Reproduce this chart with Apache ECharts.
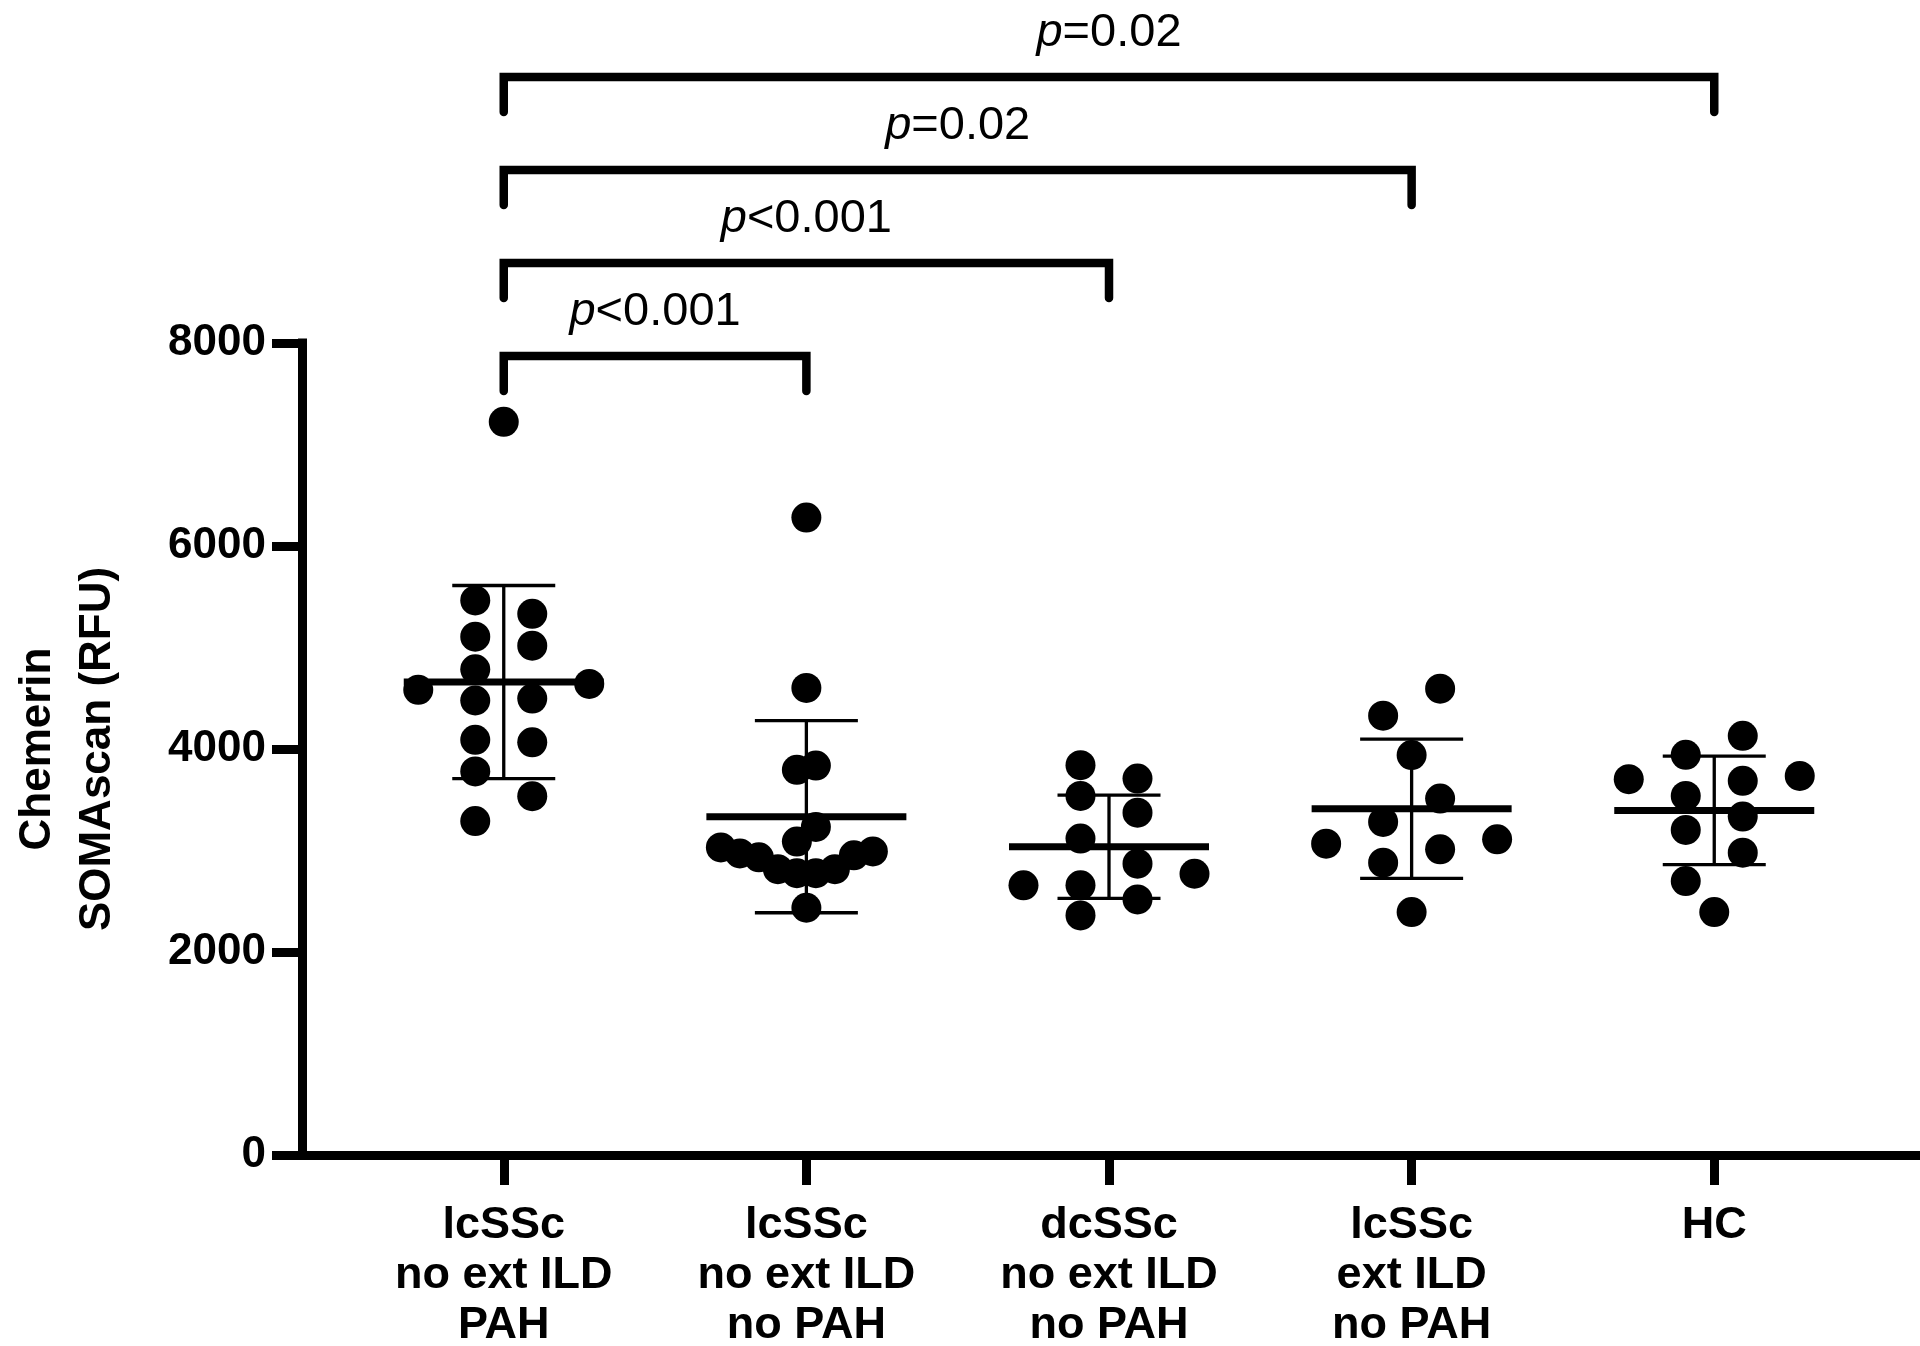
<!DOCTYPE html>
<html><head><meta charset="utf-8">
<script src="https://cdn.jsdelivr.net/npm/echarts@6/dist/echarts.min.js"></script>
<style>html,body{margin:0;padding:0;background:#fff}#c{width:1920px;height:1346px}</style>
</head><body><div id="c"></div>
<script>
// ---------- data ----------
const categories = [
  'lcSSc\nno ext ILD\nPAH',
  'lcSSc\nno ext ILD\nno PAH',
  'dcSSc\nno ext ILD\nno PAH',
  'lcSSc\next ILD\nno PAH',
  'HC'
];
const lcSScPAH      = [7223, 5464, 5332, 5107, 5018, 4785, 4641, 4583, 4497, 4478, 4090, 4066, 3779, 3535, 3290];
const lcSScNoPAH    = [6280, 4602, 3837, 3795, 3232, 3088, 3030, 2991, 2971, 2952, 2933, 2816, 2816, 2777, 2777, 2436];
const dcSScNoPAH    = [3841, 3709, 3538, 3373, 3117, 2870, 2771, 2657, 2657, 2518, 2360];
const lcSScILDNoPAH = [4594, 4328, 3940, 3512, 3281, 3110, 3067, 3012, 2880, 2393];
const healthy       = [4130, 3943, 3735, 3703, 3686, 3538, 3334, 3203, 2979, 2699, 2393];
const groups = [lcSScPAH, lcSScNoPAH, dcSScNoPAH, lcSScILDNoPAH, healthy];
const yTicks = [0, 2000, 4000, 6000, 8000];
const compFrom = [0, 0, 0, 0];
const compTo = [1, 2, 3, 4];
const compLabel = ['<0.001', '<0.001', '=0.02', '=0.02'];

// ---------- layout / style ----------
const W = 1920, H = 1346;
const G = {left: 302, right: 4, top: 343, bottom: 191};
const X_MIN = -2 / 3, X_MAX = 4 + 2 / 3;
const Y_MIN = yTicks[0], Y_MAX = yTicks[yTicks.length - 1];
const pxPerX = (W - G.left - G.right) / (X_MAX - X_MIN);
const pxPerY = (H - G.top - G.bottom) / (Y_MAX - Y_MIN);
const DOT = 30;            // symbol diameter px
const HALF_LANE = 28.5;    // px per lane unit
const MAX_EXT = 85.5;      // max half width of a column scatter, px
const FONT = '"Liberation Sans", Arial, Helvetica, sans-serif';

// deterministic column-scatter layout (beeswarm in lanes)
function laneOffsets(values) {
  const order = values.map((v, i) => i).sort((a, b) => values[a] - values[b]);
  const lanes = new Array(values.length);
  const placed = [];
  for (const i of order) {
    const v = values[i];
    const isolated = values.every((w, j) => j === i || Math.abs(w - v) * pxPerY >= DOT);
    if (isolated) { lanes[i] = 0; placed.push({lane: 0, v}); continue; }
    for (let k = 0; ; k++) {
      const cand = (k % 2 === 0 ? -1 : 1) * (2 * Math.floor(k / 2) + 1);
      if (placed.every(p => p.lane !== cand || Math.abs(p.v - v) * pxPerY >= DOT)) {
        lanes[i] = cand; placed.push({lane: cand, v}); break;
      }
    }
  }
  const maxLane = Math.max(...lanes.map(Math.abs));
  const unit = maxLane > 3 ? MAX_EXT / maxLane : HALF_LANE;
  return lanes.map(l => l * unit / pxPerX);
}

function mean(a) { return a.reduce((s, v) => s + v, 0) / a.length; }
function sd(a) { const m = mean(a); return Math.sqrt(a.reduce((s, v) => s + (v - m) * (v - m), 0) / (a.length - 1)); }

const scatterSeries = groups.map((vals, gi) => {
  const off = laneOffsets(vals);
  return {
    type: 'scatter',
    symbol: 'circle',
    symbolSize: DOT,
    itemStyle: {color: '#000', opacity: 1},
    z: 3,
    silent: true,
    data: vals.map((v, j) => [gi + off[j], v])
  };
});

const statData = groups.map((vals, gi) => [gi, mean(vals), sd(vals)]);

const chart = echarts.init(document.getElementById('c'), null, {renderer: 'canvas'});
chart.setOption({
  backgroundColor: '#fff',
  animation: false,
  grid: {left: G.left, right: G.right, top: G.top, bottom: G.bottom, containLabel: false, outerBoundsMode: 'none'},
  xAxis: {
    type: 'value', min: X_MIN, max: X_MAX,
    axisLine: {show: true, onZero: false, lineStyle: {color: '#000', width: 9, cap: 'square'}},
    axisTick: {show: true, customValues: [0, 1, 2, 3, 4], length: 30, lineStyle: {color: '#000', width: 9}},
    axisLabel: {
      show: true, customValues: [0, 1, 2, 3, 4],
      formatter: v => categories[Math.round(v)],
      margin: 46, color: '#000', fontFamily: FONT, fontWeight: 'bold', fontSize: 45, lineHeight: 50
    },
    splitLine: {show: false}
  },
  yAxis: {
    type: 'value', min: Y_MIN, max: Y_MAX, interval: 2000,
    name: 'Chemerin\nSOMAscan (RFU)', nameLocation: 'middle', nameRotate: 90, nameGap: 174,
    nameTextStyle: {color: '#000', fontFamily: FONT, fontWeight: 'bold', fontSize: 44, lineHeight: 60},
    axisLine: {show: true, onZero: false, lineStyle: {color: '#000', width: 9, cap: 'square'}},
    axisTick: {show: true, length: 30, lineStyle: {color: '#000', width: 9}},
    axisLabel: {margin: 36, color: '#000', fontFamily: FONT, fontWeight: 'bold', fontSize: 44,
      formatter: v => String(v)},
    splitLine: {show: false}
  },
  series: [
    ...scatterSeries,
    {
      type: 'custom', z: 4, silent: true,
      data: statData,
      renderItem: (params, api) => {
        const x = api.value(0), m = api.value(1), s = api.value(2);
        const c = api.coord([x, m]), t = api.coord([x, m + s]), b = api.coord([x, m - s]);
        const ls = {stroke: '#000', lineWidth: 3.3};
        return {type: 'group', children: [
          {type: 'line', shape: {x1: c[0] - 100, y1: c[1], x2: c[0] + 100, y2: c[1]}, style: {stroke: '#000', lineWidth: 7}},
          {type: 'line', shape: {x1: c[0], y1: t[1], x2: c[0], y2: b[1]}, style: ls},
          {type: 'line', shape: {x1: c[0] - 51.5, y1: t[1], x2: c[0] + 51.5, y2: t[1]}, style: ls},
          {type: 'line', shape: {x1: c[0] - 51.5, y1: b[1], x2: c[0] + 51.5, y2: b[1]}, style: ls}
        ]};
      }
    },
    {
      type: 'custom', z: 5, silent: true, clip: false,
      data: compFrom.map((f, k) => [f, compTo[k], k]),
      renderItem: (params, api) => {
        const k = api.value(2);
        const x1 = api.coord([api.value(0), Y_MAX])[0];
        const x2 = api.coord([api.value(1), Y_MAX])[0];
        const top = params.coordSys.y;
        const by = top + 13 - k * 93;
        const lab = compLabel[params.dataIndex];
        return {type: 'group', children: [
          {type: 'polyline', shape: {points: [[x1, by + 35], [x1, by], [x2, by], [x2, by + 35]]},
            style: {stroke: '#000', fill: null, lineWidth: 8.5, lineCap: 'round', lineJoin: 'miter'}},
          {type: 'text', style: {
            text: '{i|p}{n|' + lab + '}', x: (x1 + x2) / 2, y: by - 44,
            align: 'center', verticalAlign: 'middle',
            rich: {
              i: {fontStyle: 'italic', fontSize: 47, fontFamily: FONT, fill: '#000'},
              n: {fontSize: 47, fontFamily: FONT, fill: '#000'}
            }
          }}
        ]};
      }
    }
  ]
});
</script>
</body></html>
